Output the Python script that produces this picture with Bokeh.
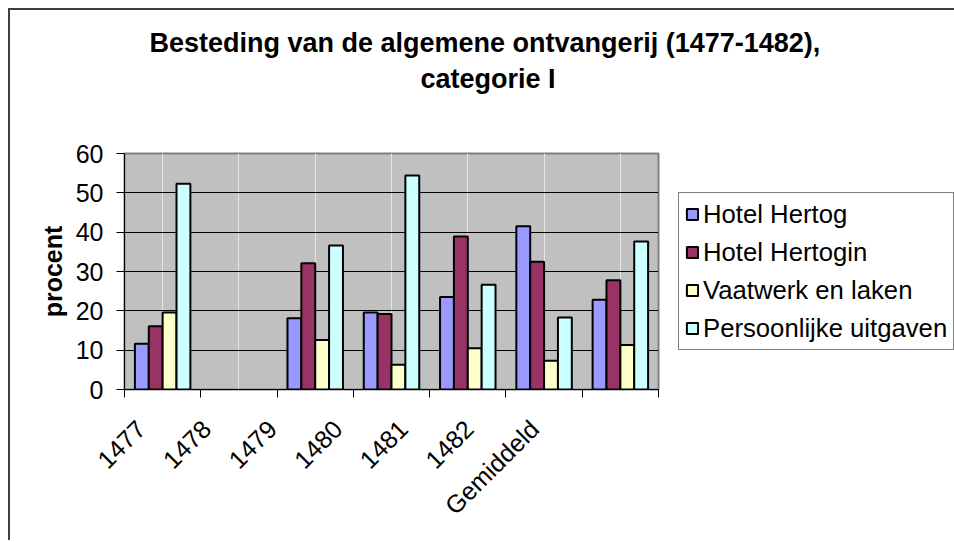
import math
from bokeh.plotting import figure
from bokeh.models import (FactorRange, FixedTicker, LinearAxis, CustomJSTickFormatter,
                          ColumnDataSource, Legend, LegendItem, Title)
from bokeh.transform import dodge
from bokeh.embed import file_html
from bokeh.resources import INLINE

NA = float("nan")

# ---------------- data ----------------
years = ["1477", "1478", "1479", "1480", "1481", "1482", "Gemiddeld"]
series_names = ["Hotel Hertog", "Hotel Hertogin", "Vaatwerk en laken", "Persoonlijke uitgaven"]
hotel_hertog = [11.6, NA, 18.1, 19.6, 23.5, 41.5, 22.8]
hotel_hertogin = [16.1, NA, 32.1, 19.2, 38.9, 32.5, 27.8]
vaatwerk_en_laken = [19.6, NA, 12.6, 6.3, 10.5, 7.3, 11.3]
persoonlijke_uitgaven = [52.3, NA, 36.6, 54.4, 26.6, 18.3, 37.6]
y_ticks = [0, 10, 20, 30, 40, 50, 60]
title_lines = ["Besteding van de algemene ontvangerij (1477-1482),", "categorie I"]
y_label = "procent"

# ---------------- style ----------------
FONT = "Liberation Sans"
colors = ["#9999FF", "#993366", "#FFFFCC", "#CCFFFF"]
BAR_W = 1 / 5.5
LABEL_X0, LABEL_DX = 0.215, 0.86   # where the rotated labels sit in the reference

src = ColumnDataSource(dict(years=years, hh=hotel_hertog, hhin=hotel_hertogin,
                            vl=vaatwerk_en_laken, pu=persoonlijke_uitgaven))

p = figure(x_range=FactorRange(*years), y_range=(y_ticks[0], y_ticks[-1]),
           frame_width=534, frame_height=236, output_backend="svg",
           toolbar_location=None, x_axis_location=None,
           min_border_left=114, min_border_right=296, min_border_top=143,
           min_border_bottom=151)
p.styles = {"margin-left": "8px", "margin-top": "8px",
            "border-left": "2px solid #404040", "border-top": "2px solid #404040"}
p.x_range.range_padding = 0

p.background_fill_color = "#C0C0C0"
p.border_fill_color = "white"
p.outline_line_color = "#808080"
p.outline_line_width = 2

cols = ["hh", "hhin", "vl", "pu"]
offsets = [-1.5, -0.5, 0.5, 1.5]
items = []
for col, off, c, name in zip(cols, offsets, colors, series_names):
    r = p.vbar(x=dodge("years", off * BAR_W, range=p.x_range), top=col, width=BAR_W,
               source=src, fill_color=c, line_color="black", line_width=2)
    items.append(LegendItem(label=name, renderers=[r]))

# title: two lines, each placed as in the reference
TITLE_STYLE = dict(text_font=FONT, text_font_size="27px", text_font_style="bold",
                   text_color="black", align="left")
p.title.text = title_lines[0]
p.title.update(offset=25, standoff=4, **TITLE_STYLE)
gap = Title(text=" ", text_font_size="1px", standoff=55)      # blank gap above plot area
t2 = Title(text=title_lines[1], offset=296, standoff=4, **TITLE_STYLE)
p.add_layout(gap, "above")
p.add_layout(t2, "above")

# y axis
yax = p.yaxis[0]
yax.ticker = FixedTicker(ticks=y_ticks)
yax.axis_label = y_label
yax.axis_label_text_font = FONT
yax.axis_label_text_font_size = "25px"
yax.axis_label_text_font_style = "bold"
yax.axis_label_text_color = "black"
yax.axis_label_standoff = 6
yax.major_label_text_font = FONT
yax.major_label_text_font_size = "25px"
yax.major_label_text_color = "black"
yax.major_label_standoff = 13
yax.major_tick_out = 8
yax.major_tick_in = 0
yax.minor_tick_out = 0
yax.minor_tick_in = 0
yax.axis_line_color = "black"
yax.major_tick_line_color = "black"
p.ygrid.ticker = FixedTicker(ticks=y_ticks)
p.ygrid.grid_line_color = "black"
p.ygrid.grid_line_width = 1

# x axis: boundary ticks as minor ticks, labels where the reference shows them
label_pos = [LABEL_X0 + LABEL_DX * i for i in range(len(years))]
xax = LinearAxis(ticker=FixedTicker(ticks=label_pos, minor_ticks=list(range(len(years) + 1))),
                 formatter=CustomJSTickFormatter(args=dict(labels=years),
                                                 code="return labels[index]"))
xax.major_label_orientation = math.pi / 4
xax.major_label_text_font = FONT
xax.major_label_text_font_size = "25px"
xax.major_label_text_color = "black"
xax.major_label_standoff = 27
xax.major_tick_out = 0
xax.major_tick_in = 0
xax.minor_tick_out = 8
xax.minor_tick_in = 0
xax.minor_tick_line_color = "black"
xax.axis_line_color = "black"
p.add_layout(xax, "below")

# legend to the right of the plot area, vertically centred on it
leg = Legend(items=items, location="center_left")
leg.label_text_font = FONT
leg.label_text_font_size = "25.7px"
leg.label_text_color = "black"
leg.label_height = 30
leg.glyph_height = 14
leg.glyph_width = 14
leg.label_standoff = 4
leg.spacing = 8
leg.padding = 6
leg.margin = 20
leg.border_line_color = "black"
leg.border_line_width = 1
leg.background_fill_color = "white"
leg.background_fill_alpha = 1
p.add_layout(leg, "right")

open("out.html", "w").write(file_html(p, INLINE))
